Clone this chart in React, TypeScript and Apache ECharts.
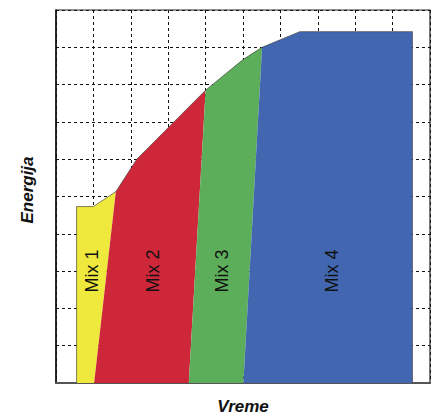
import React, { useEffect, useRef } from "react";
import * as echarts from "echarts";

// Each mix: top edge (left-to-right) and base x-range [left, right] at y = 0
const mixNames = ["Mix 1", "Mix 2", "Mix 3", "Mix 4"];
const mix1Top = [[0.55, 4.73], [1.0, 4.73], [1.6, 5.13]];
const mix2Top = [[1.6, 5.13], [2.16, 6.0], [4.0, 7.85]];
const mix3Top = [[4.0, 7.85], [5.0, 8.67], [5.51, 9.0]];
const mix4Top = [[5.51, 9.0], [6.52, 9.42], [9.53, 9.42]];
const mixBase = [[0.55, 1.02], [1.02, 3.55], [3.55, 5.01], [5.01, 9.53]];
const labelPos = [[0.95, 3.0], [2.59, 3.0], [4.44, 3.0], [7.37, 3.0]];
const colors = ["#F0E93D", "#CE273A", "#5DAE5B", "#4267B0"];

const tops = [mix1Top, mix2Top, mix3Top, mix4Top];

export default function App() {
  const ref = useRef<HTMLDivElement>(null);
  useEffect(() => {
    if (!ref.current) return;
    const chart = echarts.init(ref.current, undefined, { renderer: "svg" });

    const polygons = tops.map((top, i) => [
      [mixBase[i][0], 0],
      ...top,
      [mixBase[i][1], 0],
    ]);
    const outline: number[][] = [[mixBase[0][0], 0]];
    tops.forEach((t, i) => t.forEach((p, j) => { if (i === 0 || j > 0) outline.push(p); }));
    outline.push([mixBase[3][1], 0]);

    const series: any[] = polygons.map((poly, i) => ({
      type: "custom",
      name: mixNames[i],
      coordinateSystem: "cartesian2d",
      data: [[labelPos[i][0], labelPos[i][1]]],
      z: 2,
      renderItem: (params: any, api: any) => {
        const pts = poly.map((p) => api.coord(p));
        const lp = api.coord([api.value(0), api.value(1)]);
        return {
          type: "group",
          children: [
            { type: "polygon", shape: { points: pts }, style: { fill: colors[i], stroke: "none" } },
            {
              type: "text",
              x: lp[0],
              y: lp[1],
              rotation: Math.PI / 2,
              style: {
                text: mixNames[i],
                fill: "#111",
                font: "18px 'Liberation Sans', Arial, sans-serif",
                align: "center",
                verticalAlign: "middle",
              },
            },
          ],
        };
      },
    }));
    series.push({
      type: "custom",
      coordinateSystem: "cartesian2d",
      data: [[0, 0]],
      z: 3,
      silent: true,
      renderItem: (params: any, api: any) => ({
        type: "polyline",
        shape: { points: outline.map((p) => api.coord(p)) },
        style: { fill: "none", stroke: "rgba(50,50,50,0.75)", lineWidth: 0.8 },
      }),
    });

    chart.setOption({
      animation: false,
      grid: {
        left: 56, top: 10, width: 374, height: 373,
        outerBoundsMode: "none",
        containLabel: false,
        show: true, borderColor: "#222", borderWidth: 1.2, backgroundColor: "transparent",
      },
      xAxis: {
        type: "value", min: 0, max: 10, interval: 1,
        name: "Vreme", nameLocation: "middle", nameGap: 15,
        nameTextStyle: { fontFamily: "'Liberation Sans', Arial, sans-serif", fontSize: 17, lineHeight: 17, fontWeight: "bold", fontStyle: "italic", color: "#111", verticalAlign: "top" },
        axisLine: { show: true, lineStyle: { color: "#555", width: 2 } },
        axisTick: { show: false }, axisLabel: { show: false },
        splitLine: { show: true, lineStyle: { color: "#111", type: [3, 3], width: 1 } },
      },
      yAxis: {
        type: "value", min: 0, max: 10, interval: 1,
        name: "Energija", nameLocation: "middle", nameGap: 20, nameRotate: 90,
        nameTextStyle: { fontFamily: "'Liberation Sans', Arial, sans-serif", fontSize: 17, fontWeight: "bold", fontStyle: "italic", color: "#111", padding: [0, 0, 0, 13] },
        axisLine: { show: true, lineStyle: { color: "#111", width: 1.5 } },
        axisTick: { show: false }, axisLabel: { show: false },
        splitLine: { show: true, lineStyle: { color: "#111", type: [3, 3], width: 1 } },
      },
      series,
    });
    return () => chart.dispose();
  }, []);
  return (
    <div
      ref={ref}
      style={{ position: "fixed", left: 0, top: 0, width: 433, height: 416, background: "#fff" }}
    />
  );
}
